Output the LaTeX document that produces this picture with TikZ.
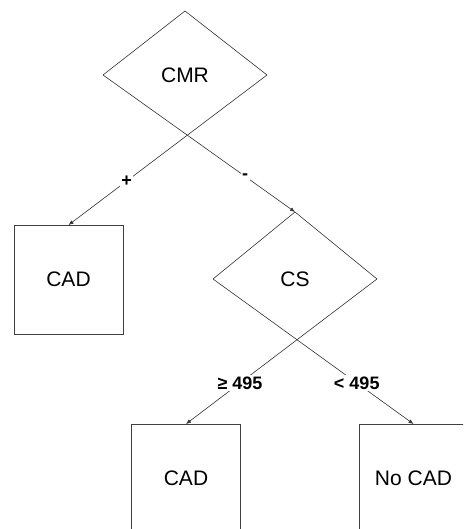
\documentclass[tikz,border=0pt]{standalone}
\usepackage{fontspec}
\setmainfont{Liberation Sans}
\usetikzlibrary{shapes.geometric,arrows.meta}

\tikzset{
	test/.style={diamond, minimum width=164pt, inner sep=0pt, outer sep=0pt, font=\fontsize{21}{25}\selectfont},
	edge/.style={draw=black!80, line width=0.6pt},
	result/.style={rectangle, draw=black!75, line width=0.6pt, minimum width=109pt, minimum height=109pt, inner sep=0pt, outer sep=0pt, font=\fontsize{21}{25}\selectfont},
	branch/.style={draw=black!80, line width=0.6pt, -{Latex[length=5pt,width=4pt]}},
	cond/.style={fill=white, inner sep=1.5pt, font=\fontsize{18}{22}\selectfont\bfseries}
}

\begin{document}
\begin{tikzpicture}[x=1pt, y=-1pt]
		\clip (0,0) rectangle (463,529);
		
		\node[test, minimum height=128pt] (cmr) at (185,75) {CMR};
		\node[result] (cadA) at (68.5,279.5) {CAD};
		\node[test, minimum height=134pt] (cs) at (295,279) {CS};
		\node[result] (cadB) at (186,478.5) {CAD};
		\node[result] (nocad) at (413.5,478.5) {No CAD};
		
		% upper sides of the tests, the branches close them below
		\draw[edge] (cmr.west) -- (cmr.north) -- (cmr.east);
		\draw[edge] (cs.west) -- (cs.north) -- (cs.east);
		
		\draw[branch] (cmr.east) -- node[cond, pos=0.707] {+} (cadA.north);
		\draw[branch] (cmr.west) -- node[cond, pos=0.74] {-} (cs.north);
		\draw[branch] (cs.east) -- node[cond, pos=0.717] {≥ 495} (cadB.north);
		\draw[branch] (cs.west) -- node[cond, pos=0.717] {< 495} (nocad.north);
			
		\end{tikzpicture}
\end{document}
